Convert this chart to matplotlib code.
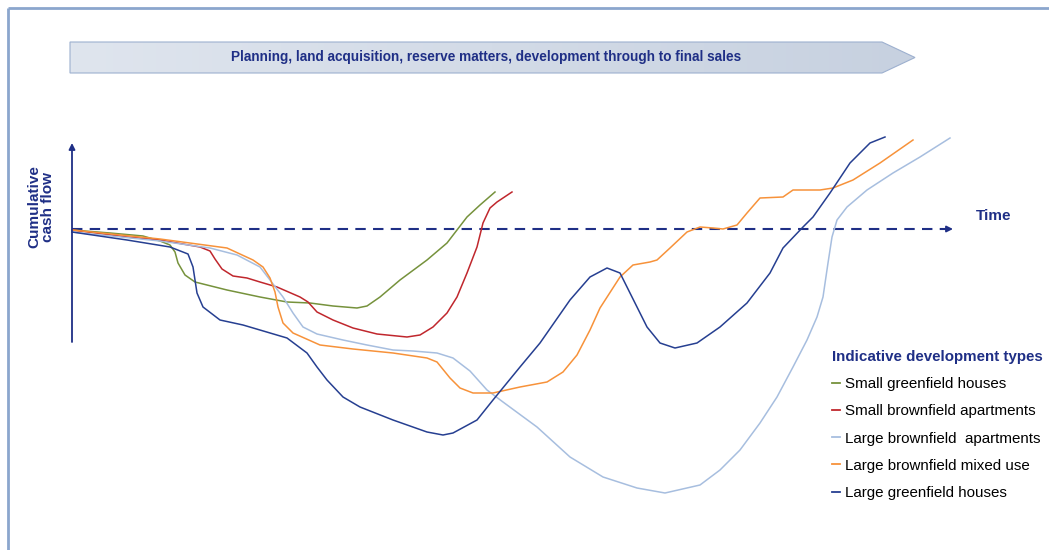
import numpy as np
import matplotlib
matplotlib.use('Agg')
import matplotlib.pyplot as plt
from matplotlib.patches import Polygon
from matplotlib.lines import Line2D

plt.rcParams['font.family'] = ['Liberation Sans', 'DejaVu Sans']

navy = '#1f2f86'

# time (px from origin) and cumulative cash flow (px above break-even)
green_t = [0, 38, 71, 88, 98, 103, 106, 113, 123, 155, 188, 215, 238, 261, 285, 295, 308, 328, 355, 375, 395, 408, 423]
green_v = [-1, -4, -7, -12, -16, -23, -34, -46, -53, -61, -68, -73, -74, -77, -79, -77, -68, -51, -31, -14, 12, 24, 37]

red_t = [0, 55, 88, 128, 138, 143, 150, 161, 175, 188, 205, 228, 236, 245, 261, 281, 305, 335, 348, 361,
         375, 385, 395, 405, 411, 418, 425, 440]
red_v = [-1, -8, -11, -18, -22, -30, -40, -47, -49, -53, -58, -68, -73, -83, -91, -99, -105, -108, -106, -98,
         -84, -68, -44, -18, 6, 21, 27, 37]

lblue_t = [0, 88, 138, 165, 188, 198, 211, 221, 231, 245, 271, 295, 321, 341, 365, 381, 398, 415, 431, 465,
           498, 531, 565, 593, 628, 648, 668, 688, 705, 721, 735, 745, 751, 756, 760, 765, 775, 795, 821, 848, 878]
lblue_v = [-3, -12, -19, -26, -38, -51, -68, -84, -98, -105, -111, -116, -121, -122, -124, -129, -142, -161, -173, -198,
           -228, -248, -259, -264, -256, -241, -221, -194, -168, -138, -111, -88, -68, -34, -8, 9, 22, 39, 56, 72, 91]

orange_t = [0, 88, 155, 181, 191, 198, 203, 206, 211, 221, 248, 281, 321, 355, 365, 378, 388, 401, 421, 448,
            475, 491, 505, 518, 528, 548, 561, 578, 585, 598, 615, 628, 641, 651, 665, 675, 688, 711, 721, 748,
            761, 781, 808, 841]
orange_v = [-1, -10, -19, -31, -38, -49, -63, -78, -94, -104, -116, -120, -124, -129, -133, -149, -159, -164, -164, -158,
            -153, -143, -126, -101, -79, -48, -36, -33, -31, -19, -3, 2, 1, 0, 4, 16, 31, 32, 39, 39,
            41, 49, 66, 89]

navy_t = [0, 55, 98, 116, 121, 125, 131, 148, 171, 215, 235, 245, 255, 271, 288, 321, 355, 371, 381,
          405, 421, 448, 468, 498, 518, 535, 548, 561, 575, 588, 603, 625, 648, 675, 698, 711, 731, 741, 758,
          778, 798, 813]
navy_v = [-3, -11, -18, -25, -38, -64, -78, -91, -96, -109, -124, -138, -151, -168, -178, -191, -203, -206, -204,
          -191, -171, -138, -114, -71, -48, -39, -44, -70, -98, -114, -119, -114, -98, -74, -44, -19, 2, 12, 36,
          66, 86, 92]

series = [
    ('Small greenfield houses', green_t, green_v, '#76923c'),
    ('Small brownfield apartments', red_t, red_v, '#c0272d'),
    ('Large brownfield  apartments', lblue_t, lblue_v, '#a7bedf'),
    ('Large brownfield mixed use', orange_t, orange_v, '#f7923a'),
    ('Large greenfield houses', navy_t, navy_v, '#263f91'),
]

banner_text = 'Planning, land acquisition, reserve matters, development through to final sales'

fig = plt.figure(figsize=(10.49, 5.50), dpi=100)

# page decorations in pixel coordinates
deco = fig.add_axes([0, 0, 1, 1])
deco.set_xlim(0, 1049)
deco.set_ylim(550, 0)
deco.axis('off')
deco.plot([8, 8], [550, 8], color='#8ba6cd', lw=2, solid_capstyle='butt')
deco.plot([8, 1049], [8, 8], color='#8ba6cd', lw=2, solid_capstyle='butt')

banner = Polygon([[70, 42], [882, 42], [915, 57.5], [882, 73], [70, 73]], closed=True,
                 facecolor='none', edgecolor='#9db0cf', lw=0.8, zorder=3)
deco.add_patch(banner)
grad = np.linspace(0, 1, 256).reshape(1, -1)
img = deco.imshow(grad, extent=[70, 915, 73, 42], aspect='auto', zorder=2,
                  cmap=matplotlib.colors.LinearSegmentedColormap.from_list('b', ['#dfe5ee', '#c7d1e0']))
img.set_clip_path(banner)
deco.text(486, 57.5, banner_text, ha='center', va='center', fontsize=9.8, fontweight='bold',
          color=navy, zorder=4)

# chart
ax = fig.add_axes([0, 0, 1, 1])
ax.set_xlim(-72, 977)
ax.set_ylim(-321, 229)
ax.axis('off')
ax.patch.set_alpha(0)

ax.annotate('', xy=(0, 86), xytext=(0, -113),
            arrowprops=dict(arrowstyle='-|>', color=navy, lw=1.3, mutation_scale=9, shrinkA=0, shrinkB=0))
ax.plot([0, 874], [0, 0], color=navy, lw=1.5, linestyle=(0, (5, 3.5)))
ax.annotate('', xy=(881, 0), xytext=(872, 0),
            arrowprops=dict(arrowstyle='-|>', color=navy, lw=1.3, mutation_scale=9, shrinkA=0, shrinkB=0))

ax.text(904, 13, 'Time', ha='left', va='center', fontsize=11, fontweight='bold', color=navy)
ax.text(-31, 22, 'Cumulative\ncash flow', ha='center', va='center', rotation=90, fontsize=11,
        fontweight='bold', color=navy, linespacing=1.0)

handles = []
for name, t, v, c in series:
    ax.plot(t, v, color=c, lw=1.1)
    handles.append(Line2D([], [], color=c, lw=1.3, label=name))

leg = ax.legend(handles=handles, loc='upper left', bbox_to_anchor=(832 / 1049, 1 - 350 / 550),
                frameon=False, fontsize=10.9, title='Indicative development types', alignment='left',
                handlelength=0.53, handletextpad=0.35, labelspacing=0.87, borderpad=0, borderaxespad=0)
leg.get_title().set_fontweight('bold')
leg.get_title().set_color(navy)
leg.get_title().set_fontsize(10.9)

fig.savefig('out.png', dpi=100)
